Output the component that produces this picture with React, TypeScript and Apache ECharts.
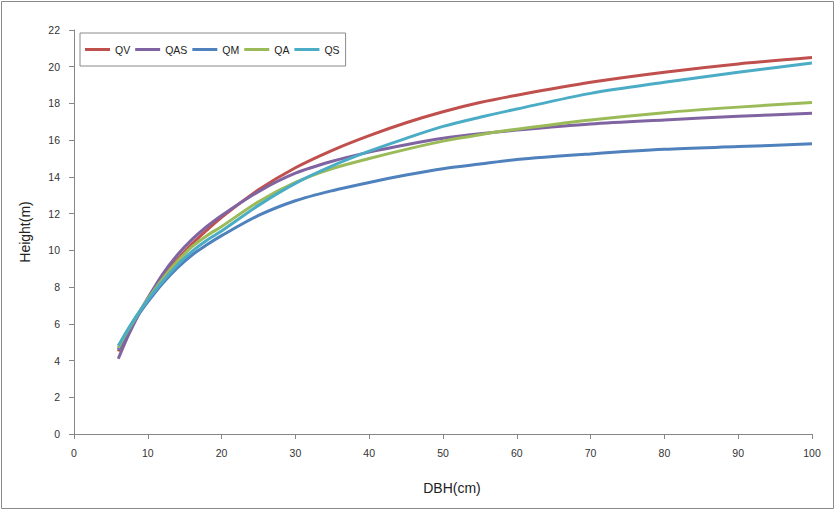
import React, { useEffect, useRef } from "react";
import * as echarts from "echarts";

const dbh = [6, 7, 8, 9, 10, 12, 14, 16, 18, 20, 25, 30, 35, 40, 45, 50, 55, 60, 70, 80, 90, 100];
const qv = [4.5, 5.3, 6.0, 6.7, 7.35, 8.6, 9.5, 10.35, 11.1, 11.8, 13.3, 14.5, 15.45, 16.25, 16.95, 17.55, 18.05, 18.45, 19.15, 19.7, 20.15, 20.5];
const qas = [4.1, 5.05, 5.9, 6.7, 7.4, 8.7, 9.75, 10.6, 11.3, 11.9, 13.2, 14.2, 14.85, 15.35, 15.75, 16.1, 16.35, 16.55, 16.88, 17.1, 17.3, 17.47];
const qm = [4.6, 5.4, 6.05, 6.65, 7.2, 8.2, 9.05, 9.75, 10.3, 10.8, 11.9, 12.7, 13.25, 13.7, 14.1, 14.45, 14.7, 14.95, 15.25, 15.5, 15.65, 15.8];
const qa = [4.7, 5.45, 6.1, 6.75, 7.35, 8.45, 9.4, 10.2, 10.8, 11.3, 12.65, 13.7, 14.45, 15.0, 15.5, 15.95, 16.3, 16.6, 17.1, 17.5, 17.8, 18.05];
const qs = [4.8, 5.5, 6.15, 6.75, 7.3, 8.3, 9.2, 9.95, 10.55, 11.05, 12.45, 13.65, 14.6, 15.4, 16.1, 16.75, 17.25, 17.7, 18.55, 19.15, 19.7, 20.2];

const seriesNames = ["QV", "QAS", "QM", "QA", "QS"];
const seriesValues = [qv, qas, qm, qa, qs];
const colors = ["#C0504D", "#8064A2", "#4F81BD", "#9BBB59", "#4BACC6"];

const FONT = "'Liberation Sans', Arial, sans-serif";

export default function App() {
  const ref = useRef<HTMLDivElement>(null);
  useEffect(() => {
    if (!ref.current) return;
    const chart = echarts.init(ref.current, null, { renderer: "svg" });
    chart.setOption({
      animation: false,
      backgroundColor: "#ffffff",
      textStyle: { fontFamily: FONT },
      grid: { left: 74, right: 24, top: 30, bottom: 79, containLabel: false },
      legend: {
        left: 80,
        top: 33,
        orient: "horizontal",
        padding: [11, 6, 11, 5],
        itemGap: 5,
        itemWidth: 25,
        itemHeight: 3,
        icon: "rect",
        borderColor: "#8a8a8a",
        borderWidth: 1,
        textStyle: { fontFamily: FONT, fontSize: 10.5, color: "#222" },
        data: seriesNames,
      },
      graphic: [
        {
          type: "rect",
          shape: { x: 1.5, y: 1.5, width: 832, height: 507 },
          style: { fill: "none", stroke: "#8a8a8a", lineWidth: 1 },
          silent: true,
        },
      ],
      xAxis: {
        type: "value",
        min: 0,
        max: 100,
        interval: 10,
        name: "DBH(cm)",
        nameLocation: "middle",
        nameGap: 47,
        nameTextStyle: { fontFamily: FONT, fontSize: 14, color: "#222", padding: [0, 0, 0, 18] },
        axisLine: { lineStyle: { color: "#868686", width: 1 } },
        axisTick: { show: true, inside: false, length: 5, lineStyle: { color: "#868686" } },
        axisLabel: { fontFamily: FONT, fontSize: 10.5, color: "#333", margin: 13 },
        splitLine: { show: false },
      },
      yAxis: {
        type: "value",
        min: 0,
        max: 22,
        interval: 2,
        name: "Height(m)",
        nameLocation: "middle",
        nameGap: 42,
        nameRotate: 90,
        nameTextStyle: { fontFamily: FONT, fontSize: 14, color: "#222" },
        axisLine: { show: true, lineStyle: { color: "#868686", width: 1 } },
        axisTick: { show: true, inside: false, length: 5, lineStyle: { color: "#868686" } },
        axisLabel: { fontFamily: FONT, fontSize: 10.5, color: "#333", margin: 14 },
        splitLine: { show: false },
      },
      series: seriesNames.map((name, i) => ({
        name,
        type: "line",
        data: dbh.map((d, j) => [d, seriesValues[i][j]]),
        smooth: 0.3,
        showSymbol: false,
        symbol: "none",
        lineStyle: { color: colors[i], width: 3 },
        itemStyle: { color: colors[i] },
      })),
    });
    return () => chart.dispose();
  }, []);
  return (
    <div
      ref={ref}
      style={{ position: "fixed", left: 0, top: 0, width: 836, height: 513, background: "#fff" }}
    />
  );
}
